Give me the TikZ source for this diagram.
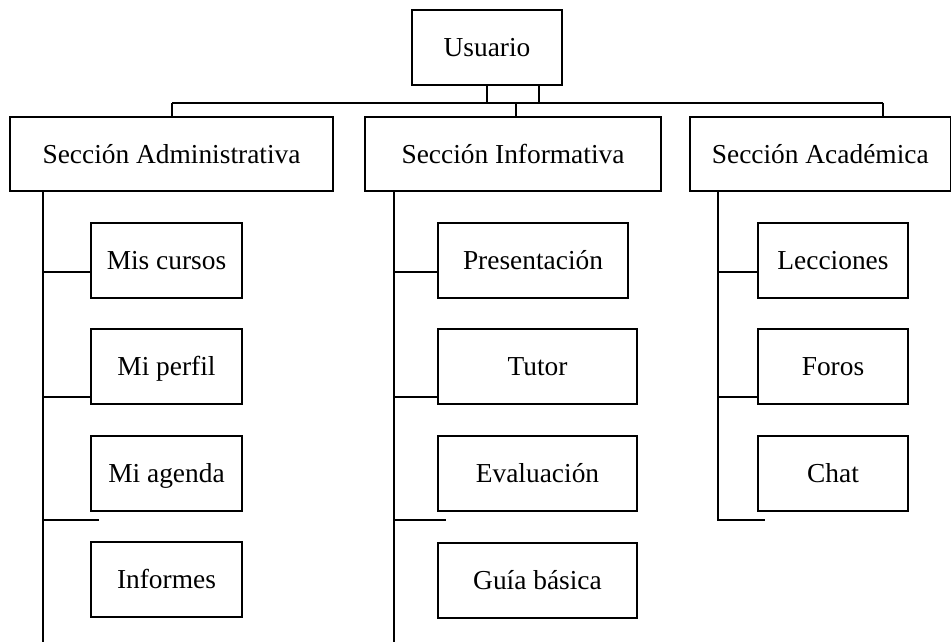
\documentclass[tikz,border=0pt]{standalone}
\usepackage{fontspec}
\setmainfont{Liberation Serif}
\usetikzlibrary{positioning,calc}

\tikzset{caja/.style={draw, line width=0.8pt, inner sep=0pt, minimum height=37.5pt, text height=9pt, text depth=0pt, font=\fontsize{13.7}{16}\selectfont}}

\begin{document}
\begin{tikzpicture} [x = 0.5pt, y = -0.5pt, line width = 0.8pt]
            \useasboundingbox (0,0) rectangle (952,642);
            \node[caja, minimum width=75pt] (usuario) at (487,47.5) {Usuario};      % raiz
            \node[caja, minimum width=161.5pt, minimum height=37pt] (admin) at (171.5,154) {Sección Administrativa};
            \node[caja, minimum width=148pt, minimum height=37pt] (info) at (513,154) {Sección Informativa};
            \node[caja, minimum width=130.25pt, minimum height=37pt] (acad) at (820.25,154) {Sección Académica};
            \foreach \nom/\txt/\y in {miscursos/Mis cursos/260.5, miperfil/Mi perfil/366.5, miagenda/Mi agenda/473.5, informes/Informes/579.5}
                \node[caja, minimum width=75.5pt] (\nom) at (166.5,\y) {\txt};
            \node[caja, minimum width=95pt] (presentacion) at (533,260.5) {Presentación};
            \foreach \nom/\txt/\y in {tutor/Tutor/366.5, evaluacion/Evaluación/473.5, guia/Guía básica/580.5}
                \node[caja, minimum width=99.5pt] (\nom) at (537.5,\y) {\txt};
            \foreach \nom/\txt/\y in {lecciones/Lecciones/260.5, foros/Foros/366.5, chat/Chat/473.5}
                \node[caja, minimum width=75pt] (\nom) at (833,\y) {\txt};

            % union superior
            \coordinate (bA) at (172,103);
            \coordinate (bC) at (883,103);
            \coordinate (bI) at (516,103);
            \draw (bA) -- (bC);
            \draw (bA) -- (bA |- admin.north);
            \draw (bI) -- (bI |- info.north);
            \draw (bC) -- (bC |- acad.north);
            \draw (usuario.south) -- (usuario.south |- bA);
            \draw ([xshift=26pt]usuario.south) -- ([xshift=26pt]usuario.south |- bA);

            % troncos
            \coordinate (tA) at (43,642);
            \coordinate (tI) at (394,642);
            \coordinate (tC) at (718,520);
            \draw (admin.south -| tA) -- (tA);
            \draw (info.south -| tI) -- (tI);
            \draw (acad.south -| tC) -- (tC) -- (765,520);
            \foreach \h/\y in {miscursos/272, miperfil/397}
                \draw (tA |- 0,\y) -- (\h.west |- 0,\y);
            \foreach \h/\y in {presentacion/272, tutor/397}
                \draw (tI |- 0,\y) -- (\h.west |- 0,\y);
            \foreach \h/\y in {lecciones/272, foros/397}
                \draw (tC |- 0,\y) -- (\h.west |- 0,\y);
            \draw (tA |- 0,520) -- (99,520);
            \draw (tI |- 0,520) -- (446,520);

        \end{tikzpicture}
\end{document}
